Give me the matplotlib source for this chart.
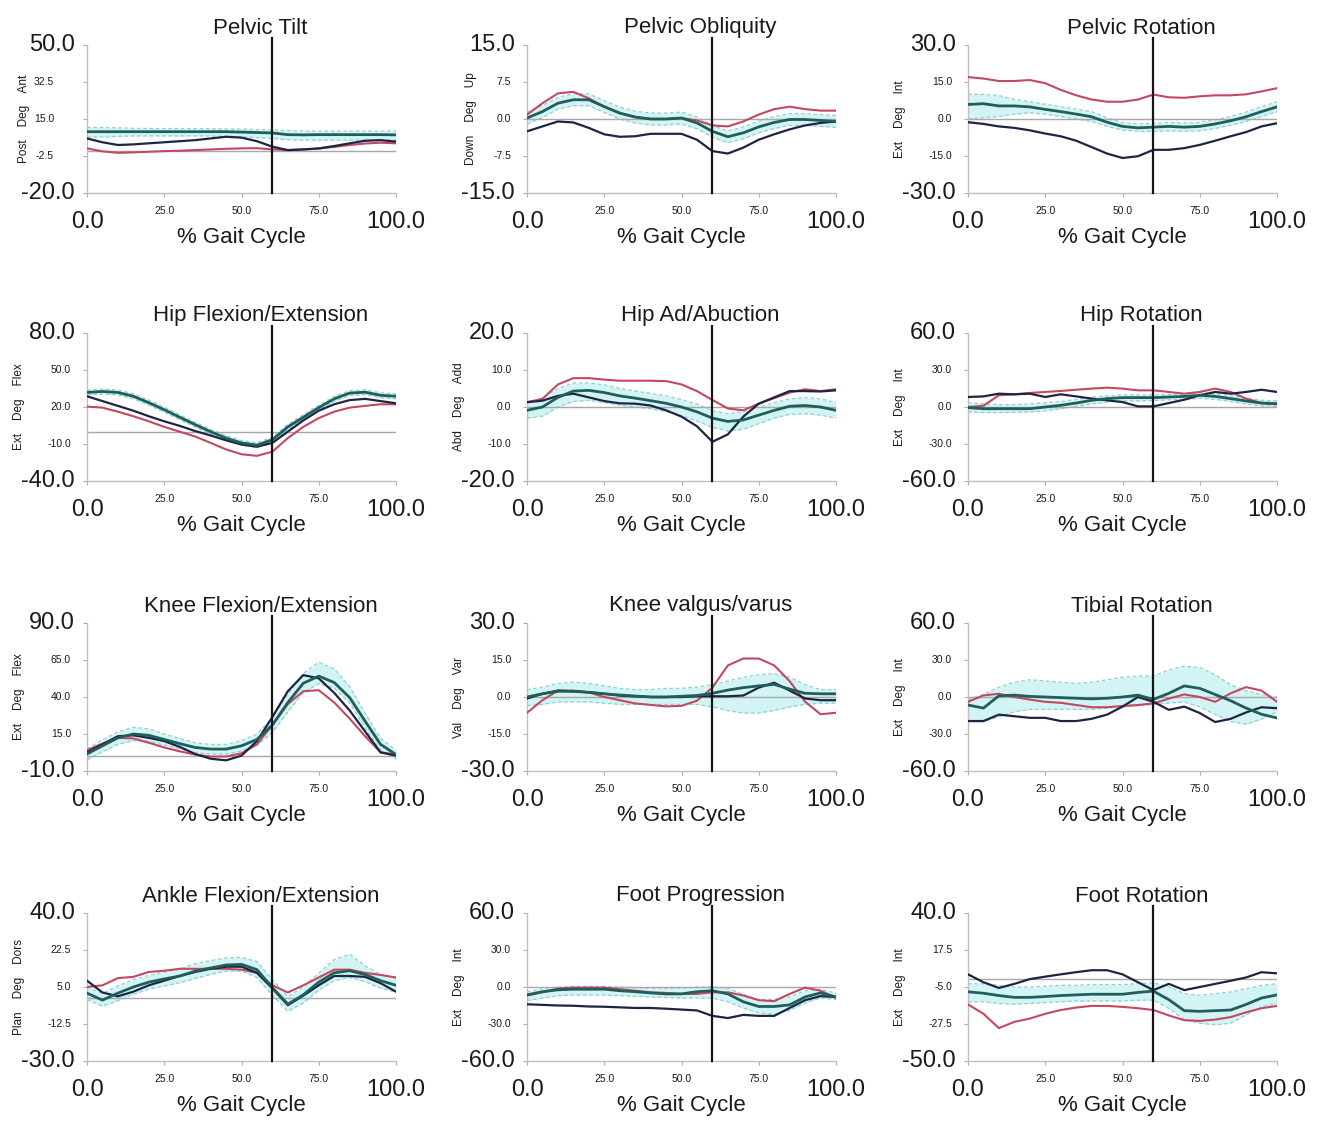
import matplotlib
matplotlib.use("Agg")
import matplotlib.pyplot as plt

plt.rcParams['font.family'] = ['Liberation Sans', 'DejaVu Sans']

# % gait cycle, read every 5 %
gait = list(range(0, 101, 5))

# --- Pelvic Tilt ---
tilt_red = [1.1, -0.3, -1, -0.8, -0.5, -0.2, 0, 0.3, 0.6, 0.9, 1.1, 1.2, 0.6, 0.3, 0.6, 1, 1.8, 2.7, 3.4, 3.8, 3.5]
tilt_navy = [5.8, 4, 2.7, 3, 3.5, 4, 4.5, 5, 5.8, 6.6, 6.2, 4.5, 1.9, 0.3, 0.6, 1.1, 2.2, 3.5, 4.7, 5, 4.3]
tilt_teal = [9, 9, 9, 9, 9, 9, 9, 9, 9, 9, 8.8, 8.6, 8.4, 7.6, 7.5, 7.6, 7.6, 7.6, 7.6, 7.6, 7.5]
tilt_lo = [6.5, 6.5, 6.8, 7, 7, 7, 7, 7, 7, 6.8, 6.6, 6.2, 5.8, 5.2, 5, 5, 5, 5, 5, 5, 5]
tilt_hi = [11, 11, 10.8, 10.6, 10.5, 10.5, 10.5, 10.5, 10.4, 10.3, 10.2, 10, 9.8, 9.5, 9.3, 9.2, 9.2, 9.3, 9.3, 9.3, 9.3]

# --- Pelvic Obliquity ---
obl_red = [0.9, 3.2, 5.2, 5.5, 4.2, 2.5, 1.2, 0.4, 0, 0, 0.2, -0.3, -1.3, -1.5, -0.5, 0.9, 2, 2.5, 2, 1.7, 1.7]
obl_navy = [-2.5, -1.5, -0.5, -0.7, -1.8, -3.1, -3.6, -3.5, -3, -3, -3, -4.2, -6.5, -7, -5.8, -4.2, -3.1, -2.1, -1.3, -0.8, -0.5]
obl_teal = [0.2, 1.5, 3.2, 3.9, 3.9, 2.5, 1.2, 0.4, 0, 0, 0.2, -0.8, -2.5, -3.6, -2.8, -1.6, -0.7, -0.1, -0.1, -0.3, -0.5]
obl_lo = [-1, 0.3, 2, 2.7, 2.7, 1.3, 0, -0.8, -1.2, -1.2, -1, -2, -3.7, -4.8, -4, -2.8, -1.9, -1.3, -1.3, -1.5, -1.7]
obl_hi = [1.4, 2.7, 4.4, 5.1, 5.1, 3.7, 2.4, 1.6, 1.2, 1.2, 1.4, 0.4, -1.3, -2.4, -1.6, -0.4, 0.5, 1.1, 1.1, 0.9, 0.7]

# --- Pelvic Rotation ---
prot_red = [17, 16.4, 15.4, 15.4, 15.8, 14.5, 11.8, 9.6, 7.9, 7, 7, 7.9, 9.9, 8.8, 8.6, 9.2, 9.6, 9.6, 10, 11.2, 12.5]
prot_navy = [-1.3, -2, -3, -3.6, -4.6, -5.9, -7, -8.8, -11.4, -14, -15.8, -15.1, -12.5, -12.5, -11.8, -10.5, -8.8, -7, -5.3, -3, -1.7]
prot_teal = [5.9, 6.2, 5.3, 5.3, 4.9, 3.9, 3, 2, 0.9, -1.3, -3, -3.6, -3.3, -3, -3.3, -3, -2, -0.7, 0.9, 3, 4.9]
prot_lo = [0, 0.5, 1, 2, 2.5, 2, 1, 0, -1, -3, -4.5, -5, -5, -4.8, -5, -4.8, -3.8, -2.5, -1, 1, 3]
prot_hi = [10, 10, 9.5, 8, 7, 6, 5, 4, 3, 0.5, -1.5, -2, -1.8, -1.4, -1.6, -1.4, -0.3, 1, 2.8, 5, 7]

# --- Hip Flexion/Extension ---
hflex_red = [20.3, 19.5, 16.2, 12.5, 8.4, 3.9, 0, -3.9, -9.1, -14.4, -18.3, -19.6, -16.2, -5.2, 3.9, 11, 16.2, 19.5, 20.9, 22.2, 22.2]
hflex_navy = [28.7, 24.8, 20.9, 17, 12.5, 8.4, 4.7, 0.5, -3.1, -7, -10.4, -12.2, -9.1, 0, 9.1, 17, 22.2, 25.6, 26.6, 24.8, 23]
hflex_teal = [31.8, 32.6, 31.8, 28.7, 23.5, 17.8, 11.7, 5.7, 0, -5.2, -9.1, -10.9, -6.5, 3.9, 11.7, 19.5, 26.6, 31.3, 32, 29.5, 28.7]
hflex_lo = [29.8, 30.6, 29.8, 26.7, 21.5, 15.8, 9.7, 3.7, -2, -7.2, -11.1, -12.9, -8.5, 1.9, 9.7, 17.5, 24.6, 29.3, 30, 27.5, 26.7]
hflex_hi = [33.8, 34.6, 33.8, 30.7, 25.5, 19.8, 13.7, 7.7, 2, -3.2, -7.1, -8.9, -4.5, 5.9, 13.7, 21.5, 28.6, 33.3, 34, 31.5, 30.7]

# --- Hip Ad/Abuction ---
habd_red = [1.3, 2.2, 6.1, 7.8, 7.8, 7.4, 7.1, 7.1, 7.1, 7, 6.1, 4.3, 1.9, -0.4, -0.9, 0.9, 2.4, 3.9, 4.8, 4.3, 4.8]
habd_navy = [1.3, 1.7, 3, 3.6, 2.6, 1.6, 1, 0.9, 0.4, -0.9, -2.6, -5.2, -9.4, -7.4, -2.6, 0.9, 2.6, 4.3, 4.3, 4.2, 4.5]
habd_teal = [-0.9, 0, 2.6, 4.3, 4.5, 3.9, 3, 2.4, 1.7, 1, 0, -1.3, -3, -3.9, -3.5, -2.2, -0.9, 0.2, 0.4, 0, -0.9]
habd_lo = [-3, -2.5, 0, 1.5, 1.8, 1.2, 0.5, 0, -0.5, -1.2, -2.3, -3.8, -5.5, -6.5, -6, -4.5, -3, -2, -1.8, -2.2, -3]
habd_hi = [1, 2.5, 5, 6.5, 6.5, 6, 5, 4.3, 3.7, 3, 2, 0.8, -1, -1.8, -1.3, 0, 1.2, 2.2, 2.5, 2.2, 1.2]

# --- Hip Rotation ---
hrot_red = [0, 1, 9.5, 10.3, 11.4, 12.2, 13, 14, 14.9, 15.7, 14.9, 13.5, 13.5, 12.2, 10.8, 12.2, 14.9, 12.2, 6.8, 3.2, 2.2]
hrot_navy = [8.1, 8.6, 10.8, 10.3, 10.8, 8.1, 10.3, 8.6, 6.8, 5.4, 4, 0.5, 0.5, 3.2, 5.9, 9.5, 12.2, 10.8, 12.2, 14, 12.2]
hrot_teal = [-0.5, -1.4, -1.4, -1.4, -1.4, 0, 1.4, 3.2, 5.4, 6.8, 7.6, 7.6, 7.6, 8.1, 8.6, 9.5, 8.6, 6.8, 4.9, 3.2, 2.7]
hrot_lo = [-4, -4.5, -4.5, -4.3, -4, -3, -1.5, 0.5, 2.5, 4, 5, 5, 5.2, 5.8, 6.2, 7, 6.2, 4.5, 2.5, 1, 0.5]
hrot_hi = [3.5, 2.5, 2, 2, 2.5, 3.5, 4.5, 6, 8, 9, 9.8, 9.8, 9.8, 10.2, 10.6, 11.5, 10.8, 9, 7.2, 5.5, 5]

# --- Knee Flexion/Extension ---
kflex_red = [4.1, 8.5, 12.4, 12, 9.1, 5.9, 3.3, 1.1, -0.2, -0.2, 2, 8, 21.1, 35.2, 43.9, 44.6, 36.3, 25.4, 13.5, 2.6, 1.1]
kflex_navy = [2.6, 8, 13.5, 14.1, 12.4, 10.2, 6.3, 1.5, -1.7, -2.8, 0.4, 10.2, 26.5, 43.9, 54.8, 52.6, 42.8, 30.9, 16.7, 2.6, 0.4]
kflex_teal = [1.5, 7, 12.4, 15, 14.1, 11.3, 8.5, 5.9, 4.8, 4.8, 7, 11.3, 21.1, 36.3, 49.3, 54.1, 49.8, 39.6, 23.7, 8, 1.1]
kflex_lo = [-2.5, 3, 8, 10.5, 10, 7.5, 5, 2.5, 1.5, 1.5, 3.5, 7.5, 16, 30, 43, 49, 46, 36, 19, 4, -2]
kflex_hi = [5, 11, 16.5, 19.5, 18.5, 15, 12, 9, 8, 8, 10.5, 15, 26, 42, 56, 63.5, 59, 47, 29, 12, 4]

# --- Knee valgus/varus ---
kvar_red = [-6.4, -1.3, 2.6, 2.6, 1.9, 0, -1.3, -2.6, -3.2, -3.8, -3.6, -1.5, 3.8, 12.8, 15.6, 15.6, 12.8, 6.4, -1.9, -7, -6.4]
kvar_navy = [-0.6, 1.3, 2.6, 2.3, 1.9, 1.3, 0.6, 0.3, 0, 0, 0, 0.3, 0.3, 0.3, 0.6, 3.8, 5.8, 2.6, -0.6, -1.3, -1.3]
kvar_teal = [0, 1.3, 2.3, 2.3, 1.9, 1.3, 0.8, 0.4, 0, 0, 0.3, 0.6, 1.5, 2.8, 3.8, 4.5, 5.1, 3.2, 1.5, 1.3, 1.3]
kvar_lo = [-3.5, -3, -2, -2, -2, -2.5, -3, -3, -3, -3, -3, -3, -4, -5.5, -6.5, -6.5, -5.5, -4, -3, -2.5, -2.5]
kvar_hi = [3, 4, 5.5, 6, 5.5, 4.5, 3.5, 3, 3, 3.5, 3.5, 4, 5, 6.5, 8, 9, 9.5, 8, 5, 3, 3]

# --- Tibial Rotation ---
tib_red = [-3.9, 1.3, 2.6, 0, -2.1, -3.9, -4.7, -6.5, -8.3, -8.3, -7.3, -6.5, -5.2, -1.3, 2.1, 0, -3.9, 3, 8, 5.2, -3.9]
tib_navy = [-19.5, -19.5, -14.3, -15.6, -16.9, -16.9, -19.5, -19.5, -17.7, -14.3, -7.8, 0, -3.9, -10.4, -7.8, -13, -20.3, -17.7, -12.5, -8.3, -9.1]
tib_teal = [-6.5, -9, 1, 1.5, 0.5, 0, -0.5, -1, -1.5, -1, 0, 1.5, -2, 3, 9, 7, 2, -3, -9, -14, -17]
tib_lo = [-20, -20, -16, -12, -10, -10, -10, -10, -10, -9, -8, -7, -6, -5, -4, -8, -14, -20, -22, -18, -12]
tib_hi = [-2, 2, 8, 12, 14, 13, 12, 11, 12, 14, 16, 17, 17, 22, 25, 24, 18, 10, 5, 2, 0]

# --- Ankle Flexion/Extension ---
ank_red = [5, 5.8, 9.2, 9.8, 12.1, 12.7, 13.6, 13.6, 13.6, 13.6, 13.2, 11.7, 5.8, 2.4, 5.8, 9.5, 13.2, 13.2, 11.7, 10.7, 9.5]
ank_navy = [8, 2.4, 0.6, 2.8, 5.8, 8, 10.2, 12.1, 13.6, 14.6, 14.6, 11.7, 4.3, -3.6, 0.9, 5.8, 10.2, 10.2, 9.8, 6.8, 2.8]
ank_teal = [2.1, -1.2, 2.1, 5, 7.3, 8.8, 10.2, 12.5, 14, 15.4, 15.7, 13.2, 4.7, -3.1, 1.3, 7.3, 11.7, 12.7, 10.9, 8, 5.8]
ank_lo = [-1, -4, -1.5, 1.5, 4, 5.5, 7, 9, 11, 12.5, 12.5, 9.5, 1, -6.5, -2.5, 3.5, 8, 9.5, 7.5, 4.5, 2.5]
ank_hi = [5, 2, 5.5, 8.5, 10.5, 12, 13.5, 16, 17.5, 18.8, 19, 17, 8.5, 0.5, 5, 11.5, 18, 20.5, 15, 11, 9]

# --- Foot Progression ---
fprog_red = [-6.9, -4.3, -1.3, -0.5, -0.5, -0.5, -1.8, -3, -4.3, -4.8, -5.6, -5.6, -4.3, -4.3, -6.9, -10.7, -11.5, -5.6, -0.5, -3, -8.9]
fprog_navy = [-14, -14.5, -15, -15.2, -15.8, -16, -16.5, -17, -17, -17.6, -18.3, -19, -23.4, -25.2, -22.6, -23.4, -23.4, -17, -10.7, -7.4, -8.1]
fprog_teal = [-6.4, -3.8, -2.3, -1.8, -1.8, -1.8, -3, -3.8, -4.8, -5.6, -5.6, -3.8, -3, -5.6, -12, -15.8, -15.8, -14.5, -8.1, -4.8, -8.1]
fprog_lo = [-11, -9, -7, -6.5, -6.5, -6.5, -7, -7.5, -8, -8.5, -9, -9, -9, -12, -17, -21, -22, -19, -13, -9, -10]
fprog_hi = [-4, -1.5, 0, 0.5, 0.5, 0.5, 0, -0.5, -1, -1, -1, 0, 0, -1, -6, -10, -10, -8, -3, -2, -5]

# --- Foot Rotation ---
frot_red = [-15.6, -21.3, -30, -26.2, -24.2, -21.3, -19, -17.5, -16.5, -16.5, -17.1, -17.9, -19, -22.3, -25.2, -25.6, -24.8, -23.3, -20.4, -17.9, -16.5]
frot_navy = [2.7, -2.1, -5.6, -3.1, -0.2, 1.3, 2.7, 4, 5.2, 5.2, 2.7, -2.1, -6.9, -3.1, -6.9, -5, -3.1, -1.2, 0.8, 4, 3.3]
frot_teal = [-7.9, -8.8, -10.2, -11.3, -11.3, -10.8, -10.2, -9.8, -9.4, -9.4, -9.4, -8.3, -7.5, -12.7, -19.4, -19.8, -19.4, -19, -15.6, -11.7, -9.8]
frot_lo = [-14, -14, -15, -15.5, -15, -14.5, -14, -13.5, -13.5, -13.5, -13.5, -13, -13, -18, -25, -27, -28, -27, -22, -17, -15]
frot_hi = [-3, -3, -4, -5, -5, -4.5, -4, -4, -3.5, -3.5, -3.5, -3, -2.5, -5, -9, -10, -9, -8, -6, -4, -3]

titles = ["Pelvic Tilt", "Pelvic Obliquity", "Pelvic Rotation",
          "Hip Flexion/Extension", "Hip Ad/Abuction", "Hip Rotation",
          "Knee Flexion/Extension", "Knee valgus/varus", "Tibial Rotation",
          "Ankle Flexion/Extension", "Foot Progression", "Foot Rotation"]
ylabels = ["Post    Deg    Ant", "Down    Deg    Up", "Ext    Deg    Int",
           "Ext    Deg    Flex", "Abd    Deg    Add", "Ext    Deg    Int",
           "Ext    Deg    Flex", "Val    Deg    Var", "Ext    Deg    Int",
           "Plan    Deg    Dors", "Ext    Deg    Int", "Ext    Deg    Int"]
yticks = [[50, 32.5, 15, -2.5, -20], [15, 7.5, 0, -7.5, -15], [30, 15, 0, -15, -30],
          [80, 50, 20, -10, -40], [20, 10, 0, -10, -20], [60, 30, 0, -30, -60],
          [90, 65, 40, 15, -10], [30, 15, 0, -15, -30], [60, 30, 0, -30, -60],
          [40, 22.5, 5, -12.5, -30], [60, 30, 0, -30, -60], [40, 17.5, -5, -27.5, -50]]
xticks = [0, 25, 50, 75, 100]
toe_off = 60

series = [
    (tilt_red, tilt_navy, tilt_teal, tilt_lo, tilt_hi),
    (obl_red, obl_navy, obl_teal, obl_lo, obl_hi),
    (prot_red, prot_navy, prot_teal, prot_lo, prot_hi),
    (hflex_red, hflex_navy, hflex_teal, hflex_lo, hflex_hi),
    (habd_red, habd_navy, habd_teal, habd_lo, habd_hi),
    (hrot_red, hrot_navy, hrot_teal, hrot_lo, hrot_hi),
    (kflex_red, kflex_navy, kflex_teal, kflex_lo, kflex_hi),
    (kvar_red, kvar_navy, kvar_teal, kvar_lo, kvar_hi),
    (tib_red, tib_navy, tib_teal, tib_lo, tib_hi),
    (ank_red, ank_navy, ank_teal, ank_lo, ank_hi),
    (fprog_red, fprog_navy, fprog_teal, fprog_lo, fprog_hi),
    (frot_red, frot_navy, frot_teal, frot_lo, frot_hi),
]

RED = '#c4485f'
NAVY = '#1e2544'
TEAL = '#1f5e59'
BAND = '#d3f4f5'
BAND_EDGE = '#92cfd2'
GRAY = '#a8a8a8'

W, H = 1327, 1123
fig = plt.figure(figsize=(W / 100, H / 100), dpi=100)

col_left = [87, 527, 968]
row_top = [45, 333, 623, 913]
ax_w, ax_h = 309, 148

for i, title in enumerate(titles):
    r, c = divmod(i, 3)
    left = col_left[c]
    top = row_top[r]
    ax = fig.add_axes([left / W, 1 - (top + ax_h) / H, ax_w / W, ax_h / H])
    red, navy, teal, lo, hi = series[i]
    ymax, ymin = yticks[i][0], yticks[i][-1]

    ax.fill_between(gait, lo, hi, color=BAND, lw=0, zorder=1)
    ax.plot(gait, lo, color=BAND_EDGE, lw=0.9, ls=(0, (3, 2)), zorder=1.5)
    ax.plot(gait, hi, color=BAND_EDGE, lw=0.9, ls=(0, (3, 2)), zorder=1.5)
    ax.axhline(0, color=GRAY, lw=1.0, zorder=2)
    ax.plot(gait, red, color=RED, lw=1.5, zorder=3)
    ax.plot(gait, navy, color=NAVY, lw=1.6, zorder=4)
    ax.plot(gait, teal, color=TEAL, lw=2.0, zorder=5)
    ax.plot([toe_off, toe_off], [ymin, ymax + 0.05 * (ymax - ymin)],
            color='#151515', lw=1.6, zorder=6, clip_on=False)

    ax.set_xlim(0, 100)
    ax.set_ylim(ymin, ymax)
    for s in ['top', 'right']:
        ax.spines[s].set_visible(False)
    for s in ['left', 'bottom']:
        ax.spines[s].set_color('#c0c0c0')
        ax.spines[s].set_linewidth(1.0)
    ax.set_xticks(xticks)
    ax.set_yticks(yticks[i])
    ax.tick_params(length=3, color='#b0b0b0', labelleft=False, labelbottom=False)

    # y tick labels: big at ends, small in between
    small_off = -33 if i == 0 else -16
    for yt in yticks[i]:
        big = yt in (ymin, ymax)
        ax.annotate(f"{yt:.1f}", xy=(0, yt), xycoords=ax.get_yaxis_transform(),
                    xytext=(-12 if big else small_off, 0), textcoords='offset pixels',
                    ha='right', va='center', fontsize=17 if big else 7.5,
                    color='#1a1a1a', annotation_clip=False)
    for xt in xticks:
        big = xt in (0, 100)
        ax.annotate(f"{xt:.1f}", xy=(xt, 0), xycoords=ax.get_xaxis_transform(),
                    xytext=(0, -29 if big else -18), textcoords='offset pixels',
                    ha='center', va='center', fontsize=17 if big else 7.5,
                    color='#1a1a1a', annotation_clip=False)

    ax.annotate("% Gait Cycle", xy=(0.5, 0), xycoords='axes fraction',
                xytext=(0, -45), textcoords='offset pixels',
                ha='center', va='center', fontsize=16, color='#1a1a1a')
    yl_off = {0: -63, 1: -56}.get(i, -68)
    ax.annotate(ylabels[i], xy=(0, 0.5), xycoords='axes fraction',
                xytext=(yl_off, 0), textcoords='offset pixels', rotation=90,
                ha='center', va='center', fontsize=8.5, color='#1a1a1a')
    ax.annotate(title, xy=(0.562, 1), xycoords='axes fraction',
                xytext=(0, 17), textcoords='offset pixels',
                ha='center', va='center', fontsize=16, color='#1a1a1a')

fig.savefig("out.png", dpi=100, facecolor='white')
